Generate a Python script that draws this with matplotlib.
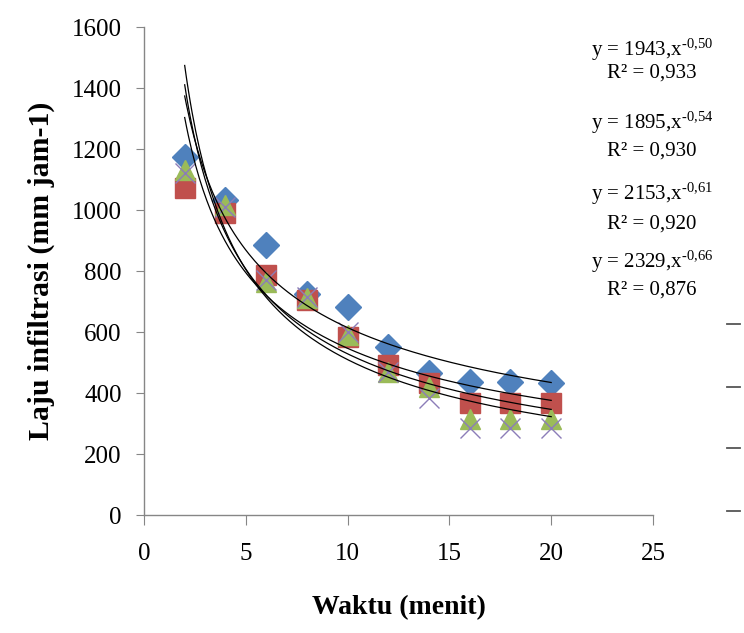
import matplotlib.pyplot as plt
import numpy as np
from matplotlib.lines import Line2D

plt.rcParams['font.family'] = ['Liberation Serif', 'DejaVu Serif']
plt.rcParams['mathtext.fontset'] = 'custom'
plt.rcParams['mathtext.rm'] = 'Liberation Serif'
plt.rcParams['mathtext.it'] = 'Liberation Serif'

# data
waktu = [2, 4, 6, 8, 10, 12, 14, 16, 18, 20]
laju_1 = [1174, 1033, 885, 725, 682, 551, 465, 436, 436, 433]
laju_2 = [1072, 990, 787, 705, 584, 492, 433, 367, 367, 367]
laju_3 = [1131, 1016, 764, 711, 590, 469, 420, 315, 315, 315]
laju_4 = [1120, 1010, 770, 715, 600, 470, 383, 285, 285, 285]

# power fits y = a * x^b
fit_a = [1943, 1895, 2153, 2329]
fit_b = [-0.50, -0.54, -0.61, -0.66]
fit_r2 = ['0,933', '0,930', '0,920', '0,876']

fig = plt.figure(figsize=(7.44, 6.33), dpi=100)
ax = fig.add_axes([0.1935, 0.1864, 0.6842, 0.7709])

# fitted curves
xs = np.linspace(2, 20, 200)
for a, b in zip(fit_a, fit_b):
    ax.plot(xs, a * xs ** b, color='black', lw=0.9, zorder=5)

ax.plot(waktu, laju_1, 'D', color='#4F81BD', ms=13, mec='#4F81BD', zorder=3)
ax.plot(waktu, laju_2, 's', color='#C0504D', ms=15, mec='#C0504D', zorder=3)
ax.plot(waktu, laju_3, '^', color='#9BBB59', ms=15, mec='#9BBB59', zorder=3)
ax.plot(waktu, laju_4, 'x', color='#8C7DB8', ms=15, mew=1.0, zorder=4)

ax.set_xlim(0, 25)
ax.set_ylim(0, 1600)
ax.set_xticks(range(0, 26, 5))
ax.set_yticks(range(0, 1601, 200))

for s in ['top', 'right']:
    ax.spines[s].set_visible(False)
for s in ['left', 'bottom']:
    ax.spines[s].set_color('#868686')
    ax.spines[s].set_linewidth(1.0)
ax.tick_params(axis='y', direction='out', length=6, color='#868686',
               labelsize=18, pad=10)
ax.tick_params(axis='x', direction='out', length=7, color='#868686',
               labelsize=18, pad=13)

ax.set_xlabel('Waktu (menit)', fontsize=20, fontweight='bold', labelpad=22)
ax.set_ylabel('Laju infiltrasi (mm jam-1)', fontsize=21.5, fontweight='bold', labelpad=12)

# equations on the right
eq_y = [(50, 73), (123, 151), (194, 224), (262, 290)]
for (a, b, r2), (y1, y2) in zip(zip(fit_a, fit_b, fit_r2), eq_y):
    bs = f'{b:.2f}'.replace('.', '{,}').replace('-', '\u2010')
    fig.text(652 / 744, 1 - y1 / 633, f'y = {a},x$^{{{bs}}}$', ha='center',
             va='center', fontsize=15)
    fig.text(652 / 744, 1 - y2 / 633, f'R² = {r2}', ha='center',
             va='center', fontsize=15)

# leftover legend dashes
for yp in [324, 387, 448, 511]:
    fig.add_artist(Line2D([727 / 744, 740 / 744], [1 - yp / 633, 1 - yp / 633],
                          color='#555555', lw=1.3))

fig.savefig('out.png', dpi=100)
